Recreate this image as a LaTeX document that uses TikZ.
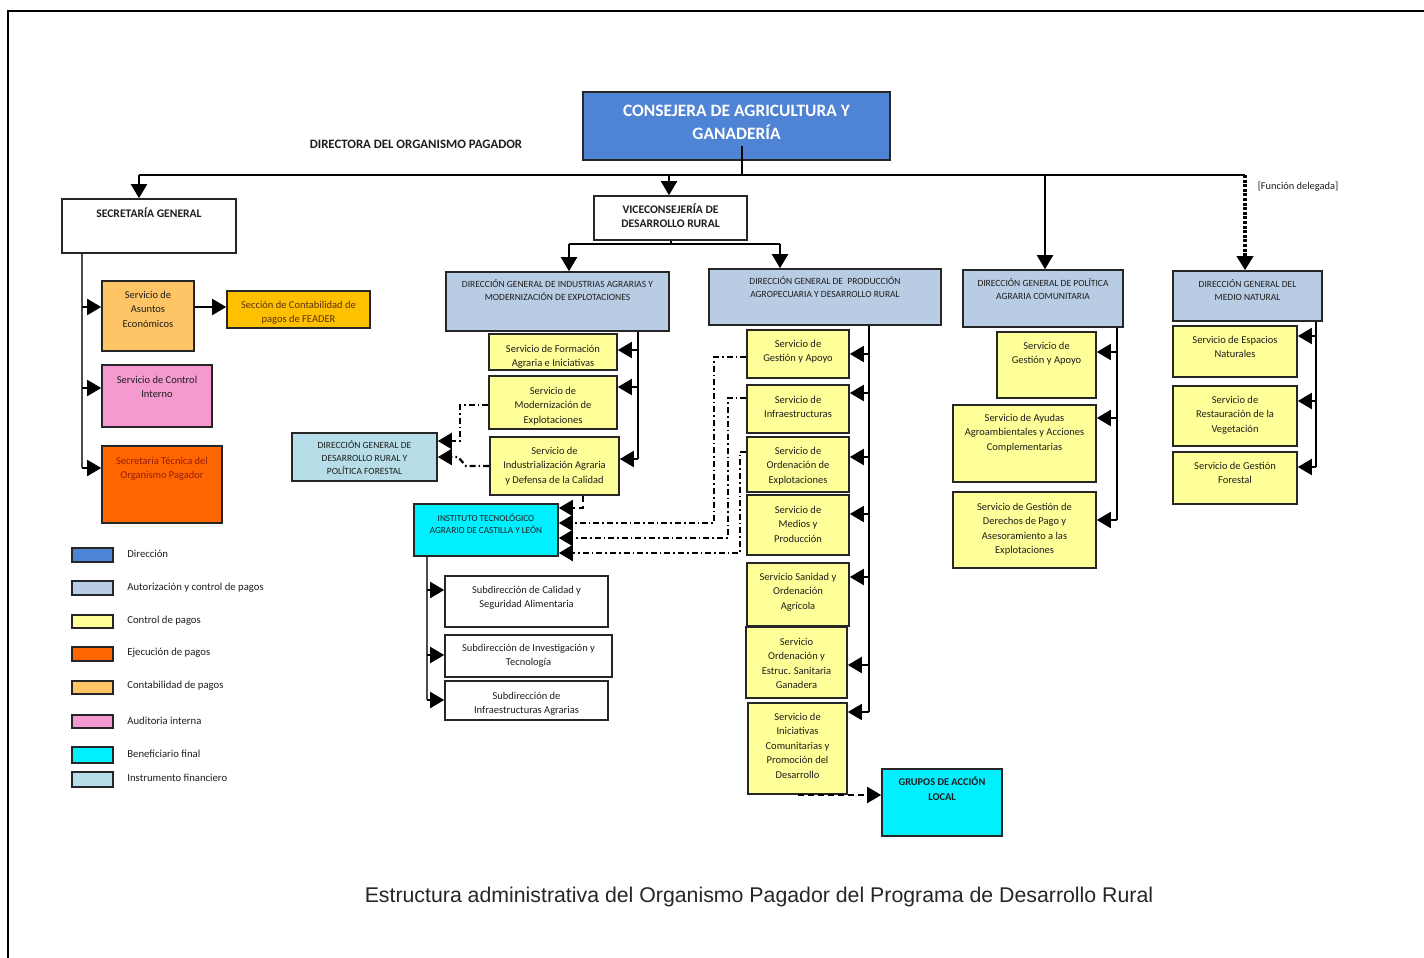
\documentclass[tikz,border=0pt]{standalone}
\usepackage{fontspec}
\setmainfont{Carlito}
\newfontfamily\capfont{Liberation Sans}
\usetikzlibrary{arrows.meta,fit}
\definecolor{dirblue}{RGB}{79,131,211}
\definecolor{autblue}{RGB}{184,204,228}
\definecolor{ctrl}{RGB}{255,255,153}
\definecolor{ejec}{RGB}{255,102,0}
\definecolor{contab}{RGB}{255,196,102}
\definecolor{gold}{RGB}{255,192,0}
\definecolor{pinkc}{RGB}{245,154,209}
\definecolor{benef}{RGB}{0,240,255}
\definecolor{instr}{RGB}{183,222,232}
\definecolor{txt}{RGB}{30,30,30}
\definecolor{darkred}{RGB}{150,30,10}
\definecolor{browntxt}{RGB}{90,50,10}
\newcommand\fs[2]{\fontsize{#1}{#2}\selectfont}
\newcommand\obox[7]{\node[#1, fit={(#3) (#4)}, label={[#5, anchor=base, yshift={-(#6+2)*0.5pt}]north:{\begin{tabular}[t]{@{}c@{}}#7\end{tabular}}}] (#2) {};}
\tikzset{
  box/.style={draw=black!85, line width=0.8pt, inner sep=0pt},
  sv/.style={font=\fs{5.25}{7.25}, inner sep=0pt, text=txt},
  dgt/.style={font=\fs{4.75}{6.5}, inner sep=0pt, text=txt},
  it/.style={font=\fs{4.6}{6}, inner sep=0pt, text=txt},
  bt/.style={font=\bfseries\fs{5.8}{7.25}, inner sep=0pt, text=txt},
  gt/.style={font=\bfseries\fs{5.2}{7.25}, inner sep=0pt, text=txt},
  ct/.style={font=\bfseries\fs{8.7}{11.5}, inner sep=0pt, text=white},
  lgt/.style={font=\fs{5.35}{6}, inner sep=0pt, anchor=west, text=txt},
  conn/.style={line width=1pt},
  thinl/.style={line width=0.6pt, draw=black!70},
  arr/.style={line width=1pt, -{Triangle[length=7pt,width=8pt]}},
  ddarr/.style={line width=1.1pt, dash pattern=on 3pt off 1.5pt on 0.8pt off 1.5pt, -{Triangle[length=7pt,width=8pt]}},
  dsharr/.style={line width=1pt, dash pattern=on 3pt off 2pt, -{Triangle[length=7pt,width=8pt]}},
  dotarr/.style={line width=2pt, dash pattern=on 1.5pt off 0.8pt, -{Triangle[length=7pt,width=8pt]}},
}
\begin{document}
\begin{tikzpicture}[x=0.5pt,y=-0.5pt]
\useasboundingbox (0,0) rectangle (1424,958);
\fill[white] (0,0) rectangle (1424,958);
\draw[line width=1.3pt] (8,958) -- (8,11) -- (1424,11);

% top level
\obox{box,fill=dirblue}{cons}{583,92}{890,160}{ct}{23}{CONSEJERA DE AGRICULTURA Y\\GANADERÍA}
\node[font=\bfseries\fs{6.4}{7}, text=txt, inner sep=0pt] (dop) at (416,144) {DIRECTORA DEL ORGANISMO PAGADOR};
\node[font=\fs{5.2}{6}, text=txt, inner sep=0pt] (fd) at (1298,187) {[Función delegada]};

% Secretaria general
\obox{box,fill=white}{sg}{62,199}{236,253}{bt}{17}{SECRETARÍA GENERAL}
\obox{box,fill=contab}{ase}{102,281}{194,351}{sv}{16}{Servicio de\\Asuntos\\Económicos}
\obox{box,fill=gold}{sec}{227,291}{370,328}{sv,text=browntxt}{16}{Sección de Contabilidad de\\pagos de FEADER}
\obox{box,fill=pinkc}{sci}{102,365}{212,427}{sv}{17}{Servicio de Control\\Interno}
\obox{box,fill=ejec}{sto}{102,446}{222,523}{sv,text=darkred}{17}{Secretaría Técnica del\\Organismo Pagador}

% Viceconsejeria
\obox{box,fill=white}{vice}{594,196}{747,240}{bt}{16}{VICECONSEJERÍA DE\\DESARROLLO RURAL}

% DG Industrias
\obox{box,fill=autblue}{dgia}{446,272}{669,331}{dgt}{14}{DIRECCIÓN GENERAL DE INDUSTRIAS AGRARIAS Y\\MODERNIZACIÓN DE EXPLOTACIONES}
\obox{box,fill=ctrl}{sfa}{489,334}{617,370}{sv}{17}{Servicio de Formación\\Agraria e Iniciativas}
\obox{box,fill=ctrl}{smo}{489,376}{617,429}{sv}{17}{Servicio de\\Modernización de\\Explotaciones}
\obox{box,fill=ctrl}{sia}{490,437}{619,495}{sv}{16}{Servicio de\\Industrialización Agraria\\y Defensa de la Calidad}
\obox{box,fill=instr}{dgdr}{292,433}{437,481}{dgt}{14.5}{DIRECCIÓN GENERAL DE\\DESARROLLO RURAL Y\\POLÍTICA FORESTAL}
\obox{box,fill=benef}{ita}{414,504}{558,556}{it}{16}{INSTITUTO TECNOLÓGICO\\AGRARIO DE CASTILLA Y LEÓN}
\obox{box,fill=white}{sca}{445,576}{608,627}{sv}{16}{Subdirección de Calidad y\\Seguridad Alimentaria}
\obox{box,fill=white}{sit}{445,635}{612,677}{sv}{15}{Subdirección de Investigación y\\Tecnología}
\obox{box,fill=white}{sin}{445,681}{608,720}{sv}{17}{Subdirección de\\Infraestructuras Agrarias}

% DG Produccion
\obox{box,fill=autblue}{dgpa}{709,269}{941,325}{dgt}{14.5}{DIRECCIÓN GENERAL DE~ PRODUCCIÓN\\AGROPECUARIA Y DESARROLLO RURAL}
\obox{box,fill=ctrl}{pga}{747,330}{849,378}{sv}{16}{Servicio de\\Gestión y Apoyo}
\obox{box,fill=ctrl}{pin}{747,385}{849,433}{sv}{17}{Servicio de\\Infraestructuras}
\obox{box,fill=ctrl}{poe}{747,437}{849,492}{sv}{16}{Servicio de\\Ordenación de\\Explotaciones}
\obox{box,fill=ctrl}{pmp}{747,495}{849,555}{sv}{17}{Servicio de\\Medios y\\Producción}
\obox{box,fill=ctrl}{psa}{747,563}{849,626}{sv}{16}{Servicio Sanidad y\\Ordenación\\Agrícola}
\obox{box,fill=ctrl}{pog}{746,627}{847,698}{sv}{17}{Servicio\\Ordenación y\\Estruc. Sanitaria\\Ganadera}
\obox{box,fill=ctrl}{pic}{748,703}{847,794}{sv}{16}{Servicio de\\Iniciativas\\Comunitarias y\\Promoción del\\Desarrollo}
\obox{box,fill=benef}{gal}{882,769}{1002,836}{gt}{15.5}{GRUPOS DE ACCIÓN\\LOCAL}

% DG PAC
\obox{box,fill=autblue}{dgpac}{963,270}{1123,327}{dgt}{15.5}{DIRECCIÓN GENERAL DE POLÍTICA\\AGRARIA COMUNITARIA}
\obox{box,fill=ctrl}{cga}{997,332}{1096,398}{sv}{16}{Servicio de\\Gestión y Apoyo}
\obox{box,fill=ctrl}{caa}{953,405}{1096,482}{sv}{15}{Servicio de Ayudas\\Agroambientales y Acciones\\Complementarias}
\obox{box,fill=ctrl}{cdp}{953,492}{1096,568}{sv}{17}{Servicio de Gestión de\\Derechos de Pago y\\Asesoramiento a las\\Explotaciones}

% DG Medio Natural
\obox{box,fill=autblue}{dgmn}{1173,271}{1322,321}{dgt}{15.5}{DIRECCIÓN GENERAL DEL\\MEDIO NATURAL}
\obox{box,fill=ctrl}{nen}{1173,326}{1297,377}{sv}{16}{Servicio de Espacios\\Naturales}
\obox{box,fill=ctrl}{nrv}{1173,386}{1297,446}{sv}{16}{Servicio de\\Restauración de la\\Vegetación}
\obox{box,fill=ctrl}{ngf}{1173,452}{1297,504}{sv}{16}{Servicio de Gestión\\Forestal}

% ---------- connectors ----------
\coordinate (tL) at (139,175);
\coordinate (tV) at (669,175);
\coordinate (tC) at (742,175);
\coordinate (tP) at (1045,175);
\coordinate (tM) at (1245,175);
\coordinate (tCi) at (742,146);
\draw[conn] (tCi) -- (tC);
\draw[conn] (tL) -- (tM);
\draw[arr] (tL) -- (tL |- sg.north);
\draw[arr] (tV) -- (tV |- vice.north);
\draw[arr] (tP) -- (tP |- dgpac.north);
\draw[dotarr] (tM) -- (tM |- dgmn.north);

% SG trunk
\coordinate (s1) at (82,307);
\coordinate (s2) at (82,388);
\coordinate (s3) at (82,468);
\draw[thinl] (sg.south -| s3) -- (s3);
\draw[arr] (s1) -- (s1 -| ase.west);
\draw[arr] (s2) -- (s2 -| sci.west);
\draw[arr] (s3) -- (s3 -| sto.west);
\draw[arr] (ase.east |- s1) -- (sec.west |- s1);

% Vice
\coordinate (vL) at (569,244);
\coordinate (vR) at (780,244);
\draw[conn] (vice.south) -- (vice.south |- vL);
\draw[conn] (vL) -- (vR);
\draw[arr] (vL) -- (vL |- dgia.north);
\draw[arr] (vR) -- (vR |- dgpa.north);

% DGIA trunk
\coordinate (i1) at (638,350);
\coordinate (i2) at (638,387);
\coordinate (i3) at (638,459);
\draw[conn] (dgia.south -| i3) -- (i3);
\draw[arr] (i1) -- (i1 -| sfa.east);
\draw[arr] (i2) -- (i2 -| smo.east);
\draw[arr] (i3) -- (i3 -| sia.east);

% to DG Desarrollo Rural
\coordinate (d1) at (460,405);
\coordinate (d2) at (460,441);
\coordinate (d3) at (466,466);
\coordinate (d4) at (458,457);
\draw[ddarr] (smo.west |- d1) -- (d1) -- (d2) -- (d2 -| dgdr.east);
\draw[ddarr] (sia.west |- d3) -- (d3) -- (d4) -- (d4 -| dgdr.east);

% to ITACYL
\coordinate (j0) at (583,508);
\coordinate (k1) at (714,357);
\coordinate (k2) at (714,523);
\coordinate (m1) at (728,398);
\coordinate (m2) at (728,538);
\coordinate (n1) at (740,452);
\coordinate (n2) at (740,553);
\draw[dsharr] (sia.south -| j0) -- (j0) -- (j0 -| ita.east);
\draw[ddarr] (pga.west |- k1) -- (k1) -- (k2) -- (k2 -| ita.east);
\draw[ddarr] (pin.west |- m1) -- (m1) -- (m2) -- (m2 -| ita.east);
\draw[ddarr] (poe.west |- n1) -- (n1) -- (n2) -- (n2 -| ita.east);

% ITACYL trunk
\coordinate (t1) at (427,590);
\coordinate (t2) at (427,655);
\coordinate (t3) at (427,700);
\draw[thinl] (ita.south -| t3) -- (t3);
\draw[arr] (t1) -- (t1 -| sca.west);
\draw[arr] (t2) -- (t2 -| sit.west);
\draw[arr] (t3) -- (t3 -| sin.west);

% DG Produccion trunk
\coordinate (p1) at (869,354);
\coordinate (p2) at (869,393);
\coordinate (p3) at (869,457);
\coordinate (p4) at (869,514);
\coordinate (p5) at (869,577);
\coordinate (p6) at (869,665);
\coordinate (p7) at (869,712);
\draw[conn] (dgpa.south -| p7) -- (p7);
\draw[arr] (p1) -- (p1 -| pga.east);
\draw[arr] (p2) -- (p2 -| pin.east);
\draw[arr] (p3) -- (p3 -| poe.east);
\draw[arr] (p4) -- (p4 -| pmp.east);
\draw[arr] (p5) -- (p5 -| psa.east);
\draw[arr] (p6) -- (p6 -| pog.east);
\draw[arr] (p7) -- (p7 -| pic.east);
\coordinate (g0) at (798,795);
\draw[dsharr] (g0) -- (g0 -| gal.west);

% DG PAC trunk
\coordinate (q1) at (1117,352);
\coordinate (q2) at (1117,418);
\coordinate (q3) at (1117,520);
\draw[conn] (dgpac.south -| q3) -- (q3);
\draw[arr] (q1) -- (q1 -| cga.east);
\draw[arr] (q2) -- (q2 -| caa.east);
\draw[arr] (q3) -- (q3 -| cdp.east);

% DG MN trunk
\coordinate (r1) at (1316,336);
\coordinate (r2) at (1316,401);
\coordinate (r3) at (1316,467);
\draw[conn] (dgmn.south -| r3) -- (r3);
\draw[arr] (r1) -- (r1 -| nen.east);
\draw[arr] (r2) -- (r2 -| nrv.east);
\draw[arr] (r3) -- (r3 -| ngf.east);

% ---------- legend ----------
\node[box,fill=dirblue,fit={(72,548) (113,562)}] (lg1) {};
\node[box,fill=autblue,fit={(72,581) (113,595)}] (lg2) {};
\node[box,fill=ctrl,fit={(72,615) (113,628)}] (lg3) {};
\node[box,fill=ejec,fit={(72,647) (113,661)}] (lg4) {};
\node[box,fill=contab,fit={(72,681) (113,694)}] (lg5) {};
\node[box,fill=pinkc,fit={(72,715) (113,728)}] (lg6) {};
\node[box,fill=benef,fit={(72,747) (113,763)}] (lg7) {};
\node[box,fill=instr,fit={(72,772) (113,787)}] (lg8) {};
\node[lgt] (lt1) at (127,554) {Dirección};
\node[lgt] (lt2) at (127,588) {Autorización y control de pagos};
\node[lgt] (lt3) at (127,621) {Control de pagos};
\node[lgt] (lt4) at (127,653) {Ejecución de pagos};
\node[lgt] (lt5) at (127,686) {Contabilidad de pagos};
\node[lgt] (lt6) at (127,721) {Auditoria interna};
\node[lgt] (lt7) at (127,754) {Beneficiario final};
\node[lgt] (lt8) at (127,778) {Instrumento financiero};

% caption
\node[font=\capfont\fs{10.65}{12}, text=black!85, inner sep=0pt] (cap) at (759,897) {Estructura administrativa del Organismo Pagador del Programa de Desarrollo Rural};
\end{tikzpicture}
\end{document}
